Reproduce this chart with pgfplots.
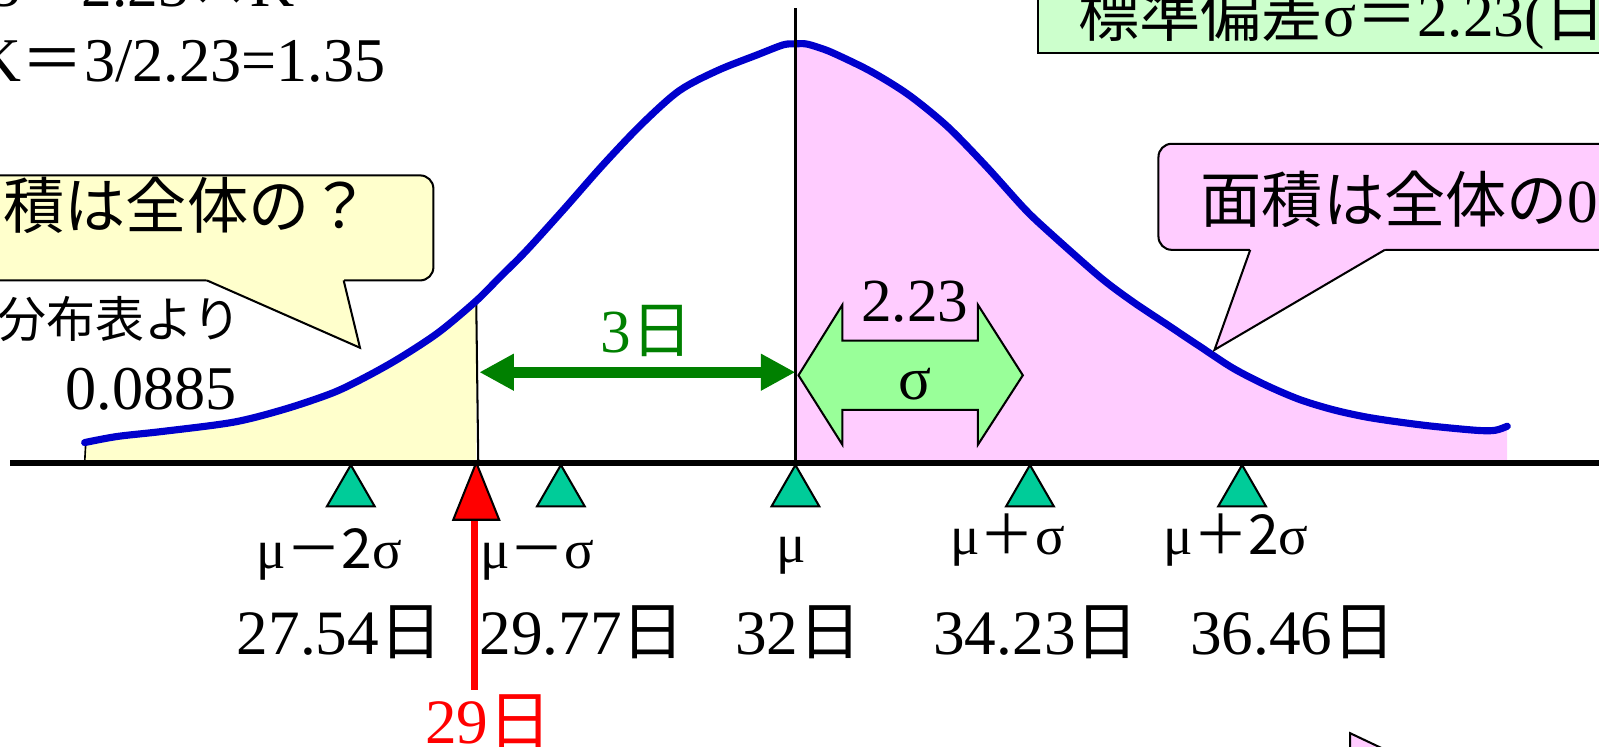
\documentclass[border=0pt]{standalone}
\usepackage{fontspec}
\setmainfont{Liberation Serif}
\newfontfamily\jp{Noto Sans CJK JP}
\usepackage{pgfplots}
\pgfplotsset{compat=1.18}
\usetikzlibrary{arrows.meta}
\definecolor{cblue}{RGB}{0,0,204}
\definecolor{cyellow}{RGB}{255,255,204}
\definecolor{cpink}{RGB}{255,204,255}
\definecolor{cgreen}{RGB}{0,128,0}
\definecolor{csig}{RGB}{153,255,153}
\definecolor{cbox}{RGB}{204,255,204}
\definecolor{ctri}{RGB}{0,204,153}
\newcommand{\fs}[1]{\fontsize{#1}{#1}\selectfont}
\begin{document}
\begin{tikzpicture}
\begin{scope}
\clip (0,0) rectangle (784pt,366pt);
\begin{axis}[scale only axis, width=784pt, height=366pt,
  xmin=0, xmax=1568, ymin=0, ymax=732, y dir=reverse,
  axis lines=none, clip=true, anchor=south west, at={(0,0)}]
% shaded areas
\addplot[draw=none, fill=cyellow, smooth, tension=0.5] coordinates {
(83,434) (115,428) (160,423) (229,414) (280,401) (327,385) (360,369) (392,351) (430,326) (467,295)}
 -- (axis cs:467,454) -- (axis cs:83,454) -- cycle;
\addplot[draw=none, fill=cpink, smooth, tension=0.5] coordinates {
(780,43) (790,43) (801,46) (817,52) (854,70) (891,93) (929,124) (967,163) (1004,204) (1027,226) (1079,272) (1111,296) (1144,318) (1177,340) (1209,361) (1242,378) (1275,392) (1308,402) (1340,409) (1373,414) (1405,418) (1448,422) (1466,422) (1478,418)}
 -- (axis cs:1478,454) -- (axis cs:780,454) -- cycle;
% edges
\draw[line width=0.8pt] (axis cs:84,436) -- (axis cs:83,454);
\draw[line width=1pt] (axis cs:467,296) -- (axis cs:469,454);
% distribution curve
\addplot[cblue, line width=3.5pt, smooth, tension=0.5, line cap=round] coordinates {
(83,434) (115,428) (160,423) (229,414) (280,401) (327,385) (360,369) (392,351) (430,326) (467,295) (490,272) (516,246) (554,204) (591,162) (629,122) (666,89) (704,69) (742,54) (768,44) (780,43) (790,43) (801,46) (817,52) (854,70) (891,93) (929,124) (967,163) (1004,204) (1027,226) (1079,272) (1111,296) (1144,318) (1177,340) (1209,361) (1242,378) (1275,392) (1308,402) (1340,409) (1373,414) (1405,418) (1448,422) (1466,422) (1478,418)};
% baseline and mean line
\draw[line width=3pt] (axis cs:10,454) -- (axis cs:1580,454);
\draw[line width=1.2pt] (axis cs:780,8) -- (axis cs:780,454);
% left callout
\draw[fill=cyellow, line width=1pt, rounded corners=6.5pt] (axis cs:-40,172) rectangle (axis cs:425,275);
\fill[cyellow] (axis cs:201,270) -- (axis cs:339,270) -- (axis cs:337,275) -- (axis cs:353,341) -- (axis cs:203,275) -- cycle;
\draw[line width=1pt] (axis cs:337,275) -- (axis cs:353,341) -- (axis cs:203,275);
% right callout
\draw[fill=cpink, line width=1pt, rounded corners=6.5pt] (axis cs:1136,141) rectangle (axis cs:1660,245);
\fill[cpink] (axis cs:1224,240) -- (axis cs:1360,240) -- (axis cs:1358,245) -- (axis cs:1191,343) -- (axis cs:1226,245) -- cycle;
\draw[line width=1pt] (axis cs:1226,245) -- (axis cs:1191,343) -- (axis cs:1358,245);
% top right box
\draw[fill=cbox, line width=1.2pt] (axis cs:1018,-30) rectangle (axis cs:1660,52);
% bottom right shape
\draw[fill=cpink, line width=1pt] (axis cs:1324,719) -- (axis cs:1400,755) -- (axis cs:1324,755) -- cycle;
% 3 days arrow
\addplot[cgreen, line width=5.5pt, arrows={Triangle[length=17pt,width=17pt]-Triangle[length=17pt,width=17pt]}] coordinates {(470,365) (780,365)};
% sigma block arrow
\addplot[fill=csig, draw=black, line width=1pt] coordinates {(783,368) (826,299) (826,334) (959,334) (959,299) (1003,368) (959,436) (959,402) (826,402) (826,436)} -- cycle;
% markers
\addplot[only marks, mark=triangle*, mark size=13.5pt, mark options={fill=ctri, draw=black, line width=1pt}] coordinates {(344,483) (550,483) (780,483) (1010,483) (1218,483)};
\addplot[red, line width=3.5pt] coordinates {(465,505) (465,677)};
\addplot[only marks, mark=triangle*, mark size=13pt, mark options={fill=red, draw=black, line width=1pt, yscale=1.436}] coordinates {(467,491)};
% texts
\node[anchor=base west, inner sep=0, font=\fs{30}] at (axis cs:-10,6) {3{\jp ＝}2.23{\jp ×}K};
\node[anchor=base west, inner sep=0, font=\fs{30.5}] at (axis cs:-23,80) {K{\jp ＝}3/2.23=1.35};
\node[anchor=base west, inner sep=0, font=\fs{30}] at (axis cs:1057,36) {{\jp 標準偏差}σ{\jp ＝}2.23({\jp 日})};
\node[anchor=base west, inner sep=0, font=\fs{30}] at (axis cs:-57,224) {\jp 面積は全体の？};
\node[anchor=base west, inner sep=0, font=\fs{30}] at (axis cs:1177,218) {{\jp 面積は全体の}0.5};
\node[anchor=base west, inner sep=0, font=\fs{24}] at (axis cs:-99,331) {\jp 正規分布表より};
\node[anchor=base west, inner sep=0, font=\fs{30.5}] at (axis cs:64,402) {0.0885};
\node[anchor=base, inner sep=0, font=\fs{30}, text=cgreen] at (axis cs:634,346) {3{\jp 日}};
\node[anchor=base, inner sep=0, font=\fs{30}] at (axis cs:897,315) {2.23};
\node[anchor=base, inner sep=0, font=\fs{30}] at (axis cs:897,392) {σ};
\node[anchor=base, inner sep=0, font=\fs{27}] at (axis cs:323,557) {μ{\jp －2}σ};
\node[anchor=base, inner sep=0, font=\fs{27}] at (axis cs:527,557) {μ{\jp －}σ};
\node[anchor=base, inner sep=0, font=\fs{27}] at (axis cs:776,552) {μ};
\node[anchor=base, inner sep=0, font=\fs{27}] at (axis cs:988,544) {μ{\jp ＋}σ};
\node[anchor=base, inner sep=0, font=\fs{27}] at (axis cs:1212,544) {μ{\jp ＋2}σ};
\node[anchor=base, inner sep=0, font=\fs{31}] at (axis cs:333,642) {27.54{\jp 日}};
\node[anchor=base, inner sep=0, font=\fs{31}] at (axis cs:571,642) {29.77{\jp 日}};
\node[anchor=base, inner sep=0, font=\fs{31}] at (axis cs:783,642) {32{\jp 日}};
\node[anchor=base, inner sep=0, font=\fs{31}] at (axis cs:1016,642) {34.23{\jp 日}};
\node[anchor=base, inner sep=0, font=\fs{31}] at (axis cs:1268,642) {36.46{\jp 日}};
\node[anchor=base, inner sep=0, font=\fs{31}, text=red] at (axis cs:479,729) {29{\jp 日}};
\end{axis}
\end{scope}
\pgfresetboundingbox
\path[use as bounding box] (0,0) rectangle (784pt,366pt);
\end{tikzpicture}
\end{document}
